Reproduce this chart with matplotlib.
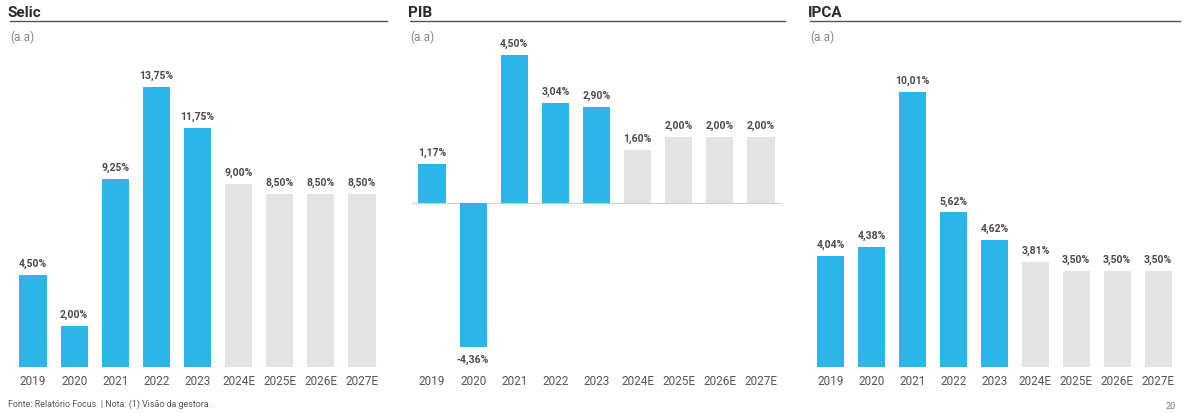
import matplotlib.pyplot as plt

plt.rcParams['font.family'] = ['Roboto', 'DejaVu Sans']

years = ["2019", "2020", "2021", "2022", "2023", "2024E", "2025E", "2026E", "2027E"]
selic = [4.50, 2.00, 9.25, 13.75, 11.75, 9.00, 8.50, 8.50, 8.50]
pib = [1.17, -4.36, 4.50, 3.04, 2.90, 1.60, 2.00, 2.00, 2.00]
ipca = [4.04, 4.38, 10.01, 5.62, 4.62, 3.81, 3.50, 3.50, 3.50]
n_real = 5  # realised years, rest are estimates

BLUE = "#2bb5e9"
GREY = "#e3e3e3"
W, H = 1185, 414

fig = plt.figure(figsize=(W / 100, H / 100), dpi=100)

def px(x0, y0, x1, y1):
    # pixel box (top-left origin) -> figure fraction
    return [x0 / W, 1 - y1 / H, (x1 - x0) / W, (y1 - y0) / H]

panels = [
    ("Selic", selic, (8, 387), (12.5, 382.5), (0, 16.1)),
    ("PIB", pib, (408, 785), (411.5, 781.5), (-4.97, 4.97)),
    ("IPCA", ipca, (808, 1180), (810.5, 1178.5), (0, 11.93)),
]

for title, vals, (lx0, lx1), (ax0, ax1), ylim in panels:
    fig.text(lx0 / W, 1 - 13 / H, title, fontsize=11, fontweight="bold",
             color="#2b2b2b", va="center", ha="left")
    fig.add_artist(plt.Line2D([(lx0 + 2) / W, lx1 / W], [1 - 22 / H, 1 - 22 / H],
                              color="#555555", lw=1.0))
    fig.text((lx0 + 2) / W, 1 - 37 / H, "(a.a)", fontsize=8.5, color="#8a8a8a",
             va="center", ha="left")

    ax = fig.add_axes(px(ax0, 40, ax1, 368))
    colors = [BLUE if i < n_real else GREY for i in range(len(vals))]
    ax.bar(range(len(vals)), vals, width=0.66, color=colors, zorder=2)
    ax.set_xlim(-0.5, len(vals) - 0.5)
    ax.set_ylim(*ylim)
    ax.axhline(0, color="#d0d0d0", lw=0.8, zorder=1)
    for i, v in enumerate(vals):
        lab = f"{v:.2f}%".replace(".", ",")
        if v >= 0:
            ax.annotate(lab, (i, v), xytext=(0, 5), textcoords="offset points",
                        ha="center", va="bottom", fontsize=7.5, fontweight="bold",
                        color="#4a4a4a")
        else:
            ax.annotate(lab, (i, v), xytext=(0, -5), textcoords="offset points",
                        ha="center", va="top", fontsize=7.5, fontweight="bold",
                        color="#4a4a4a")
    ax.axis("off")
    for i, y in enumerate(years):
        fig.text((ax0 + (ax1 - ax0) * (i + 0.5) / len(years)) / W, 1 - 382 / H, y,
                 fontsize=8.5, color="#555555", ha="center", va="center")

fig.text(8 / W, 1 - 404 / H, "Fonte: Relatório Focus. | Nota: (1) Visão da gestora.",
         fontsize=6.4, color="#555555", ha="left", va="center")
fig.text(1176 / W, 1 - 407 / H, "20", fontsize=6.5, color="#777777", ha="right", va="center")

fig.savefig("out.png", dpi=100)
